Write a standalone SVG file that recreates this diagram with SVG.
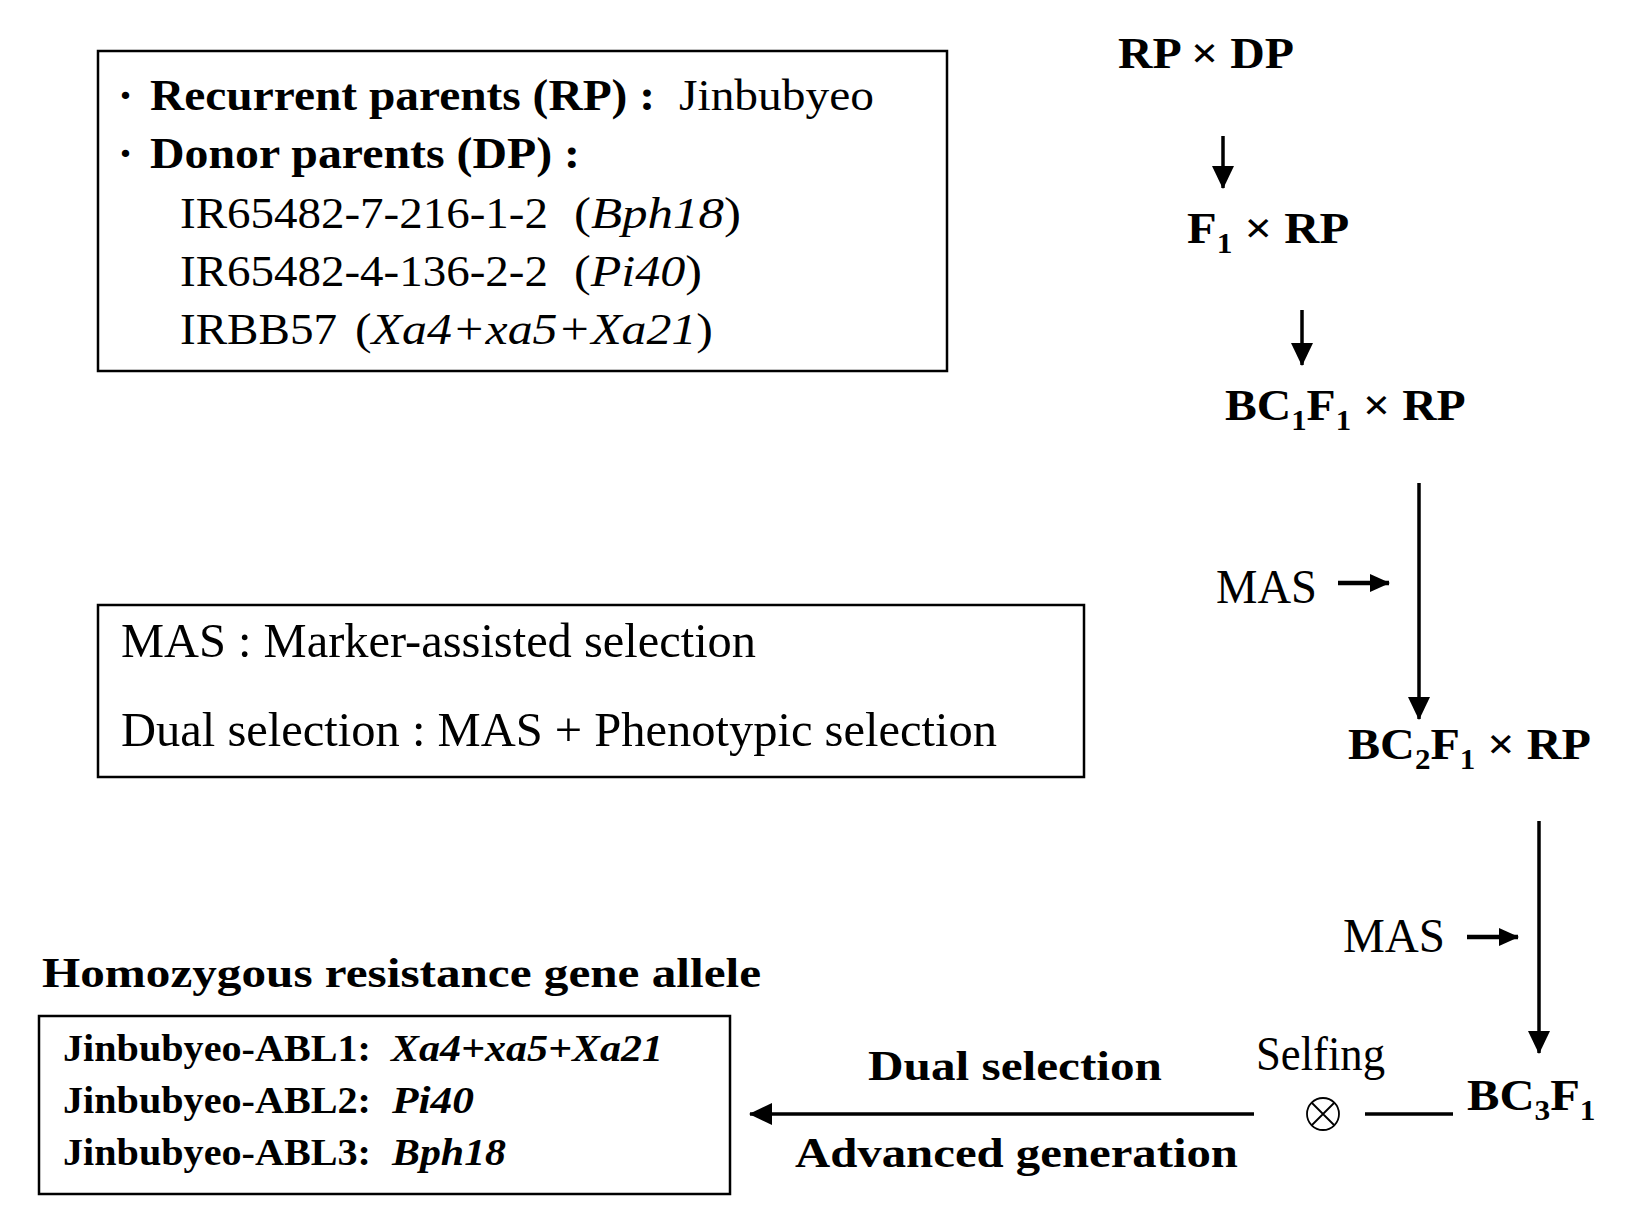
<svg xmlns="http://www.w3.org/2000/svg" width="1646" height="1226" viewBox="0 0 1646 1226">
<style>
text{font-family:"Liberation Serif","Times New Roman",serif;fill:#000}
.b{font-weight:bold}
.i{font-style:italic}
.t1{font-size:45px}
.t2{font-size:48px}
.t3{font-size:45px}
.t4{font-size:38px}
.t5{font-size:42px}
.sub{font-size:29px}
.box{fill:#fff;stroke:#000;stroke-width:2.5}
.ln{stroke:#000;stroke-width:3.5;fill:none}
.ls{stroke:#000;stroke-width:4.5;fill:none}
</style>
<defs>
<marker id="ah" markerUnits="userSpaceOnUse" markerWidth="24" markerHeight="24" viewBox="0 0 24 24" refX="22" refY="12" orient="auto">
<path d="M0,1 L23,12 L0,23 Z" fill="#000"/>
</marker>
<marker id="ahs" markerUnits="userSpaceOnUse" markerWidth="20" markerHeight="20" viewBox="0 0 20 20" refX="19" refY="10" orient="auto">
<path d="M0,1 L20,10 L0,19 Z" fill="#000"/>
</marker>
</defs>
<rect width="1646" height="1226" fill="#fff"/>

<g id="parents-box">
<rect class="box" x="98" y="51" width="849" height="320"/>
<text class="t1 b" x="118" y="110">·</text>
<text class="t1 b" x="150" y="110" textLength="505" lengthAdjust="spacingAndGlyphs">Recurrent parents (RP) :</text>
<text class="t1" x="679" y="110" textLength="195" lengthAdjust="spacingAndGlyphs">Jinbubyeo</text>
<text class="t1 b" x="118" y="168">·</text>
<text class="t1 b" x="150" y="168" textLength="430" lengthAdjust="spacingAndGlyphs">Donor parents (DP) :</text>
<text class="t1" x="180" y="228" textLength="368" lengthAdjust="spacingAndGlyphs">IR65482-7-216-1-2</text>
<text class="t1" x="574" y="228" textLength="167" lengthAdjust="spacingAndGlyphs">(<tspan class="i">Bph18</tspan>)</text>
<text class="t1" x="180" y="286" textLength="368" lengthAdjust="spacingAndGlyphs">IR65482-4-136-2-2</text>
<text class="t1" x="574" y="286" textLength="128" lengthAdjust="spacingAndGlyphs">(<tspan class="i">Pi40</tspan>)</text>
<text class="t1" x="180" y="344" textLength="157" lengthAdjust="spacingAndGlyphs">IRBB57</text>
<text class="t1" x="355" y="344" textLength="358" lengthAdjust="spacingAndGlyphs">(<tspan class="i">Xa4+xa5+Xa21</tspan>)</text>
</g>

<g id="legend-box">
<rect class="box" x="98" y="605" width="986" height="172"/>
<text class="t2" x="121" y="657" textLength="635" lengthAdjust="spacingAndGlyphs">MAS : Marker-assisted  selection</text>
<text class="t2" x="121" y="746" textLength="876" lengthAdjust="spacingAndGlyphs">Dual  selection : MAS + Phenotypic selection</text>
</g>

<g id="n-rpdp">
<text class="t3 b" x="1118" y="68" textLength="176" lengthAdjust="spacingAndGlyphs">RP × DP</text>
</g>
<g id="n-f1">
<text class="t3 b" transform="translate(1187,243) scale(1.08,1)">F<tspan class="sub" dy="10">1</tspan><tspan dy="-10"> × RP</tspan></text>
</g>
<g id="n-bc1">
<text class="t3 b" transform="translate(1225,420) scale(1.06,1)">BC<tspan class="sub" dy="10">1</tspan><tspan dy="-10">F</tspan><tspan class="sub" dy="10">1</tspan><tspan dy="-10"> × RP</tspan></text>
</g>
<g id="n-mas1">
<text class="t2" x="1216" y="603" textLength="101" lengthAdjust="spacingAndGlyphs">MAS</text>
</g>
<g id="n-bc2">
<text class="t3 b" transform="translate(1348,759) scale(1.07,1)">BC<tspan class="sub" dy="10">2</tspan><tspan dy="-10">F</tspan><tspan class="sub" dy="10">1</tspan><tspan dy="-10"> × RP</tspan></text>
</g>
<g id="n-mas2">
<text class="t2" x="1343" y="952" textLength="102" lengthAdjust="spacingAndGlyphs">MAS</text>
</g>
<g id="n-bc3">
<text class="t3 b" transform="translate(1467,1110) scale(1.08,1)">BC<tspan class="sub" dy="10">3</tspan><tspan dy="-10">F</tspan><tspan class="sub" dy="10">1</tspan></text>
</g>
<g id="n-selfing">
<text class="t2" x="1256" y="1070" textLength="129" lengthAdjust="spacingAndGlyphs">Selfing</text>
<circle cx="1323" cy="1114" r="16" fill="none" stroke="#000" stroke-width="1.8"/>
<path d="M1312,1103 L1334,1125 M1334,1103 L1312,1125" stroke="#000" stroke-width="1.8"/>
</g>
<g id="n-dual">
<text class="t5 b" x="868" y="1080" textLength="294" lengthAdjust="spacingAndGlyphs">Dual selection</text>
<text class="t5 b" x="795" y="1167" textLength="443" lengthAdjust="spacingAndGlyphs">Advanced generation</text>
</g>

<g id="result">
<text class="t5 b" x="42" y="987" textLength="719" lengthAdjust="spacingAndGlyphs">Homozygous resistance gene allele</text>
<rect class="box" x="39" y="1016" width="691" height="178"/>
<text class="t4 b" x="63" y="1061" textLength="308" lengthAdjust="spacingAndGlyphs">Jinbubyeo-ABL1:</text>
<text class="t4 b i" x="391" y="1061" textLength="272" lengthAdjust="spacingAndGlyphs">Xa4+xa5+Xa21</text>
<text class="t4 b" x="63" y="1113" textLength="308" lengthAdjust="spacingAndGlyphs">Jinbubyeo-ABL2:</text>
<text class="t4 b i" x="392" y="1113" textLength="82" lengthAdjust="spacingAndGlyphs">Pi40</text>
<text class="t4 b" x="63" y="1165" textLength="308" lengthAdjust="spacingAndGlyphs">Jinbubyeo-ABL3:</text>
<text class="t4 b i" x="392" y="1165" textLength="114" lengthAdjust="spacingAndGlyphs">Bph18</text>
</g>

<g id="connectors">
<line class="ln" x1="1223" y1="136" x2="1223" y2="188" marker-end="url(#ah)"/>
<line class="ln" x1="1302" y1="310" x2="1302" y2="365" marker-end="url(#ah)"/>
<line class="ln" x1="1419" y1="483" x2="1419" y2="719" marker-end="url(#ah)"/>
<line class="ls" x1="1338" y1="583" x2="1389" y2="583" marker-end="url(#ahs)"/>
<line class="ln" x1="1539" y1="821" x2="1539" y2="1053" marker-end="url(#ah)"/>
<line class="ls" x1="1467" y1="937" x2="1518" y2="937" marker-end="url(#ahs)"/>
<line class="ln" x1="1365" y1="1114" x2="1453" y2="1114"/>
<line class="ln" x1="1254" y1="1114" x2="750" y2="1114" marker-end="url(#ah)"/>
</g>
</svg>
